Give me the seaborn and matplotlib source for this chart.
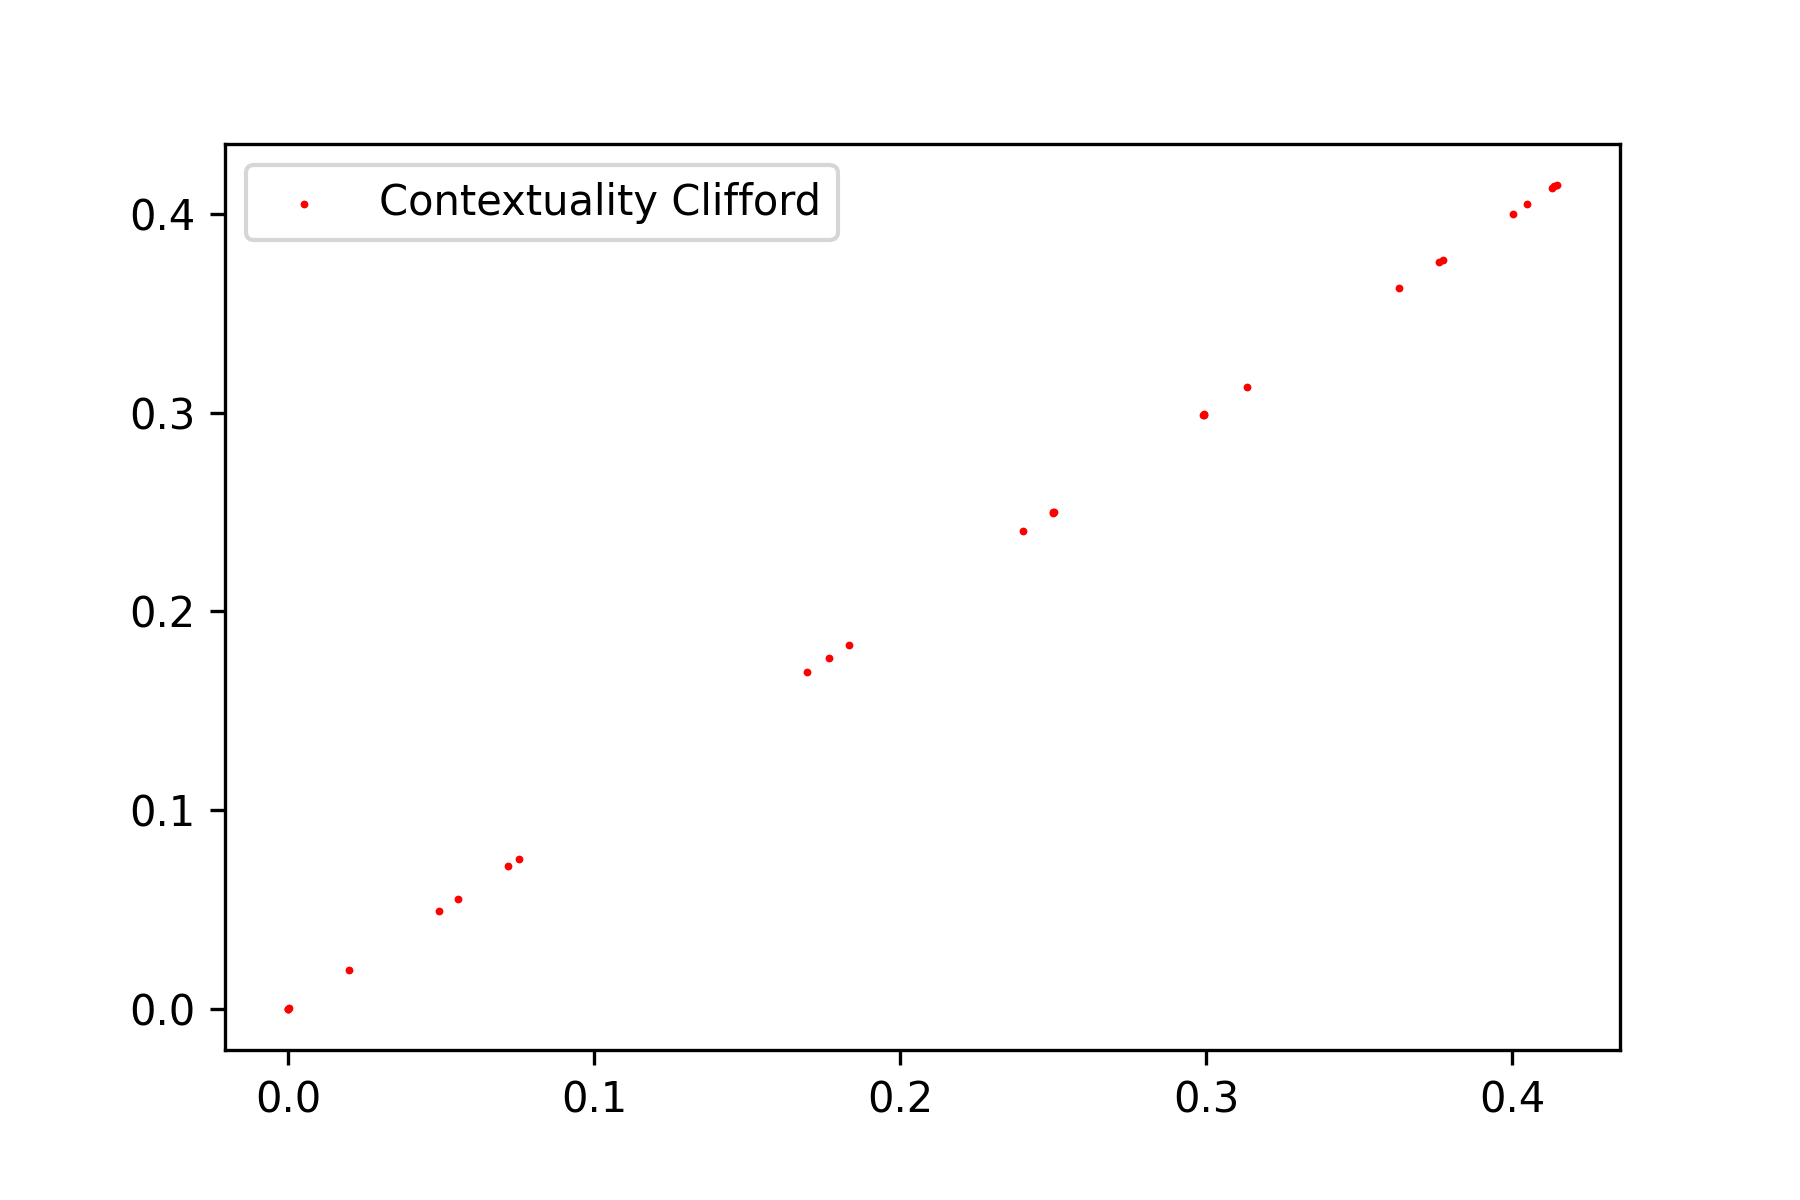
#importing the necessary libraries
import numpy as np
import matplotlib
matplotlib.use("Agg")
import matplotlib.pyplot as plt
import seaborn as sns

#values
x_vals = [0.0, 0.0, 0.0, 0.0003, 0.0197, 0.0493, 0.0555, 0.0718, 0.0754,
          0.1695, 0.1767, 0.1831, 0.2402, 0.2498, 0.2500, 0.2502, 0.2990, 0.2992,
          0.2994, 0.3132, 0.3630, 0.3761, 0.3774, 0.4002, 0.4048, 0.4129, 0.4137, 0.4145]
y_vals = [0.0, 0.0, 0.0, 0.0002, 0.0196, 0.0492, 0.0553, 0.0719, 0.0754,
          0.1693, 0.1764, 0.1829, 0.2402, 0.2497, 0.2499, 0.2500, 0.2987, 0.2990,
          0.2992, 0.3131, 0.3628, 0.3760, 0.3770, 0.4000, 0.4047, 0.4131, 0.4138, 0.4144]
series_label = "Contextuality Clifford"

fig, ax = plt.subplots(figsize=(6, 4), dpi=300)
plt.subplots_adjust(left=0.125, right=0.9, top=0.88, bottom=0.125)

#scatter of the points
sns.scatterplot(x=np.array(x_vals), y=np.array(y_vals), color="red", s=3.5,
                linewidth=0, label=series_label, ax=ax, legend=False)

ax.set_xticks([0.0, 0.1, 0.2, 0.3, 0.4])
ax.set_yticks([0.0, 0.1, 0.2, 0.3, 0.4])
ax.legend(loc="upper left")

plt.savefig("out.png", dpi=300)
